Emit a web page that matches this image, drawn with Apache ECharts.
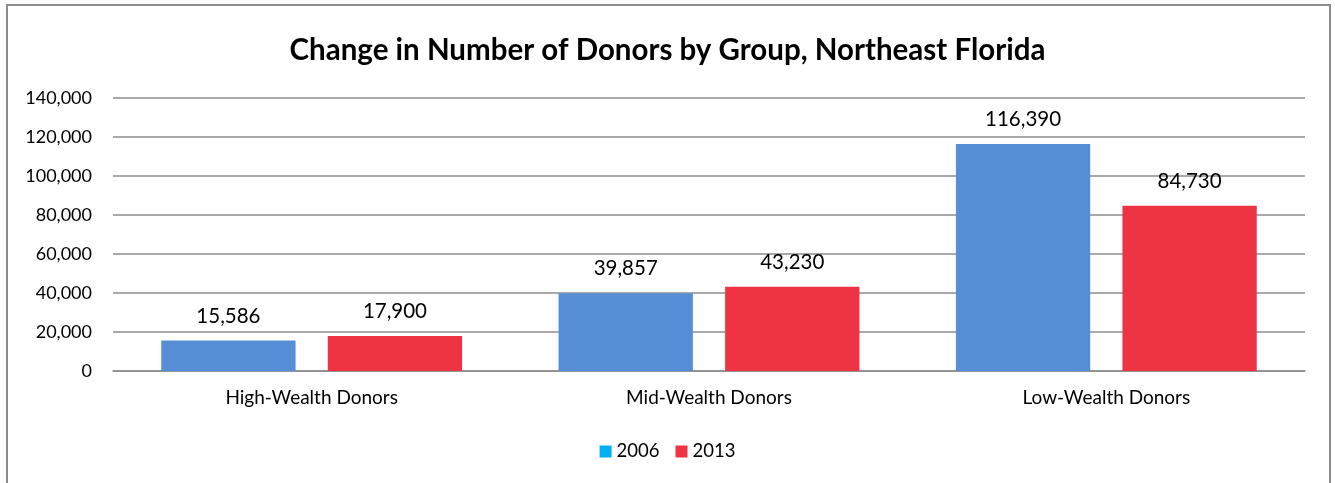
<!DOCTYPE html>
<html>
<head>
<meta charset="utf-8">
<script src="https://cdn.jsdelivr.net/npm/echarts@6/dist/echarts.min.js"></script>
<style>
  html, body { margin: 0; padding: 0; background: #fff; }
  #chart { width: 1335px; height: 483px; }
</style>
</head>
<body>
<div id="chart"></div>
<script>
// data
const categories = ['High-Wealth Donors', 'Mid-Wealth Donors', 'Low-Wealth Donors'];
const seriesNames = ['2006', '2013'];
const values2006 = [15586, 39857, 116390];
const values2013 = [17900, 43230, 84730];
const yTicks = [0, 20000, 40000, 60000, 80000, 100000, 120000, 140000];

const FONT = 'Lato, "Open Sans", sans-serif';
const fmt = v => new Intl.NumberFormat('en-US').format(v);

const chart = echarts.init(document.getElementById('chart'));

const option = {
  animation: false,
  backgroundColor: '#fff',
  title: {
    text: 'Change in Number of Donors by Group, Northeast Florida',
    left: 'center',
    top: 30,
    textStyle: { fontFamily: FONT, fontSize: 29.5, fontWeight: 'bold', color: '#000' }
  },
  legend: {
    bottom: 17,
    left: 'center',
    itemWidth: 12,
    itemHeight: 12,
    itemGap: 16,
    icon: 'rect',
    textStyle: { fontFamily: FONT, fontSize: 18.5, color: '#000' },
    data: [
      { name: seriesNames[0], itemStyle: { color: '#00B0F0' } },
      { name: seriesNames[1], itemStyle: { color: '#EE3442' } }
    ]
  },
  grid: { left: 113, right: 30, top: 98, bottom: 112, containLabel: false },
  xAxis: {
    type: 'category',
    data: categories,
    axisTick: { show: false },
    axisLine: { lineStyle: { color: '#8C8C8C', width: 1.5 } },
    axisLabel: { fontFamily: FONT, fontSize: 19, color: '#000', margin: 17 }
  },
  yAxis: {
    type: 'value',
    min: yTicks[0],
    max: yTicks[yTicks.length - 1],
    interval: yTicks[1] - yTicks[0],
    axisLine: { show: false },
    axisTick: { show: false },
    axisLabel: { fontFamily: FONT, fontSize: 18, color: '#000', margin: 21, formatter: v => fmt(v) },
    splitLine: { lineStyle: { color: '#8C8C8C', width: 1.5 } }
  },
  series: [
    {
      name: seriesNames[0],
      type: 'bar',
      data: values2006,
      barWidth: '33.8%',
      barGap: '24%',
      itemStyle: { color: '#558ED5' },
      label: { show: true, position: 'top', distance: 14, fontFamily: FONT, fontSize: 20.5, color: '#000', formatter: p => fmt(p.value) }
    },
    {
      name: seriesNames[1],
      type: 'bar',
      data: values2013,
      barWidth: '33.8%',
      barGap: '24%',
      itemStyle: { color: '#EE3442' },
      label: { show: true, position: 'top', distance: 14, fontFamily: FONT, fontSize: 20.5, color: '#000', formatter: p => fmt(p.value) }
    }
  ],
  graphic: [
    {
      type: 'rect',
      silent: true,
      z: -1,
      shape: { x: 7, y: 5, width: 1323, height: 520 },
      style: { fill: 'none', stroke: '#8C8C8C', lineWidth: 2 }
    }
  ]
};

chart.setOption(option);
</script>
</body>
</html>
